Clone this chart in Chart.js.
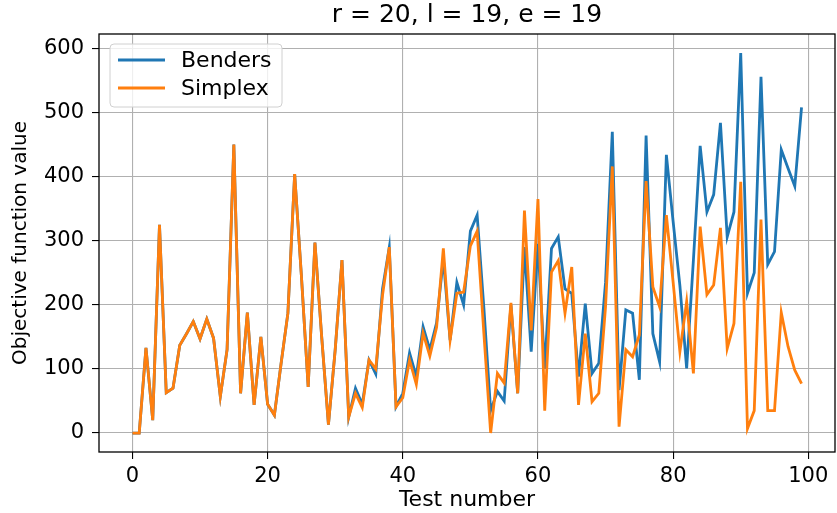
<!DOCTYPE html>
<html>
<head>
<meta charset="utf-8">
<script src="https://cdn.jsdelivr.net/npm/chart.js@4.4.1/dist/chart.umd.min.js"></script>
<style>
    html, body { margin: 0; padding: 0; background: #fff; }
    #wrap { width: 837px; height: 513px; }
</style>
</head>
<body>
<div id="wrap"><canvas id="objChart" width="837" height="513"></canvas></div>
<script>
// Objective values per test run
const benders = [
    0, 0, 133, 20, 325, 63, 70, 137, 155, 174,
    147, 178, 148, 57, 130, 450, 62, 188, 44, 150,
    45, 28, 109, 187, 404, 245, 72, 297, 150, 13,
    130, 270, 25, 70, 45, 114, 92, 225, 290, 41,
    62, 125, 88, 166, 130, 172, 272, 145, 235, 200,
    315, 340, 195, 35, 65, 50, 200, 62, 290, 127,
    295, 100, 288, 306, 225, 218, 88, 202, 93, 109,
    235, 470, 67, 192, 187, 83, 464, 155, 111, 434,
    330, 230, 101, 270, 448, 345, 372, 484, 306, 345,
    593, 218, 250, 556, 263, 283, 442, 413, 385, 508
];
const simplex = [
    0, 0, 133, 20, 325, 63, 70, 137, 155, 174,
    147, 178, 148, 57, 130, 450, 62, 188, 44, 150,
    45, 28, 109, 187, 404, 245, 72, 297, 150, 13,
    130, 270, 25, 62, 40, 114, 100, 215, 290, 41,
    55, 114, 76, 156, 120, 165, 288, 145, 218, 220,
    292, 315, 155, 0, 93, 78, 203, 62, 347, 160,
    365, 35, 251, 269, 187, 259, 44, 155, 49, 62,
    197, 416, 10, 130, 119, 153, 393, 228, 197, 340,
    235, 127, 205, 93, 322, 216, 231, 320, 132, 171,
    392, 7, 35, 333, 35, 35, 188, 135, 98, 77
];
const xTicks = [0, 20, 40, 60, 80, 100];
const yTicks = [0, 100, 200, 300, 400, 500, 600];
const seriesNames = ['Benders', 'Simplex'];
const seriesColors = ['#1f77b4', '#ff7f0e'];
const chartTitle = 'r = 20, l = 19, e = 19';

const FONT = 'DejaVu Sans';
const LINE_W = 2.8;

const toPoints = arr => arr.map((v, i) => ({ x: i, y: v }));

// frame, title and the in-plot legend
const decorPlugin = {
    id: 'decor',
    afterDraw(chart) {
        const ctx = chart.ctx;
        const a = chart.chartArea;
        ctx.save();
        ctx.strokeStyle = '#000';
        ctx.lineWidth = 1.3;
        ctx.strokeRect(a.left, a.top, a.right - a.left, a.bottom - a.top);

        ctx.fillStyle = '#000';
        ctx.font = '25px "' + FONT + '"';
        ctx.textAlign = 'center';
        ctx.textBaseline = 'middle';
        ctx.fillText(chartTitle, (a.left + a.right) / 2, 15);

        // legend box
        const bx = a.left + 11, by = a.top + 10, bw = 172, bh = 63;
        ctx.beginPath();
        ctx.roundRect(bx, by, bw, bh, 4);
        ctx.fillStyle = 'rgba(255,255,255,0.8)';
        ctx.fill();
        ctx.strokeStyle = '#d0d0d0';
        ctx.lineWidth = 1;
        ctx.stroke();

        ctx.textAlign = 'left';
        ctx.font = '22px "' + FONT + '"';
        seriesNames.forEach((name, k) => {
            const ly = by + 16 + k * 28;
            ctx.beginPath();
            ctx.moveTo(bx + 8, ly);
            ctx.lineTo(bx + 55, ly);
            ctx.strokeStyle = seriesColors[k];
            ctx.lineWidth = LINE_W;
            ctx.stroke();
            ctx.fillStyle = '#000';
            ctx.fillText(name, bx + 71, ly + 1);
        });
        ctx.restore();
    }
};

new Chart(document.getElementById('objChart'), {
    type: 'line',
    data: {
        datasets: [
            {
                label: seriesNames[0],
                data: toPoints(benders),
                borderColor: seriesColors[0],
                borderWidth: LINE_W,
                pointRadius: 0,
                tension: 0,
                order: 2
            },
            {
                label: seriesNames[1],
                data: toPoints(simplex),
                borderColor: seriesColors[1],
                borderWidth: LINE_W,
                pointRadius: 0,
                tension: 0,
                order: 1
            }
        ]
    },
    options: {
        responsive: false,
        animation: false,
        layout: { padding: { left: 0, right: 2, top: 34, bottom: 0 } },
        plugins: {
            legend: { display: false },
            title: { display: false },
            tooltip: { enabled: false }
        },
        scales: {
            x: {
                type: 'linear',
                min: -4.95,
                max: 103.95,
                afterBuildTicks: s => { s.ticks = xTicks.map(v => ({ value: v })); },
                afterFit: s => { s.height = 61; },
                grid: { color: '#b0b0b0', lineWidth: 1.1, tickColor: '#000', tickLength: 7 },
                border: { display: false },
                ticks: { color: '#000', font: { family: FONT, size: 21 }, padding: 5, maxRotation: 0 },
                title: { display: true, text: 'Test number', color: '#000', font: { family: FONT, size: 22 }, padding: { top: 0, bottom: 0 } }
            },
            y: {
                min: -29.6,
                max: 622.6,
                afterBuildTicks: s => { s.ticks = yTicks.map(v => ({ value: v })); },
                afterFit: s => { s.width = 99; },
                grid: { color: '#b0b0b0', lineWidth: 1.1, tickColor: '#000', tickLength: 7 },
                border: { display: false },
                ticks: { color: '#000', font: { family: FONT, size: 21 }, padding: 8 },
                title: { display: true, text: 'Objective function value', color: '#000', font: { family: FONT, size: 20 }, padding: { top: 9, bottom: 0 } }
            }
        }
    },
    plugins: [decorPlugin]
});
</script>
</body>
</html>
